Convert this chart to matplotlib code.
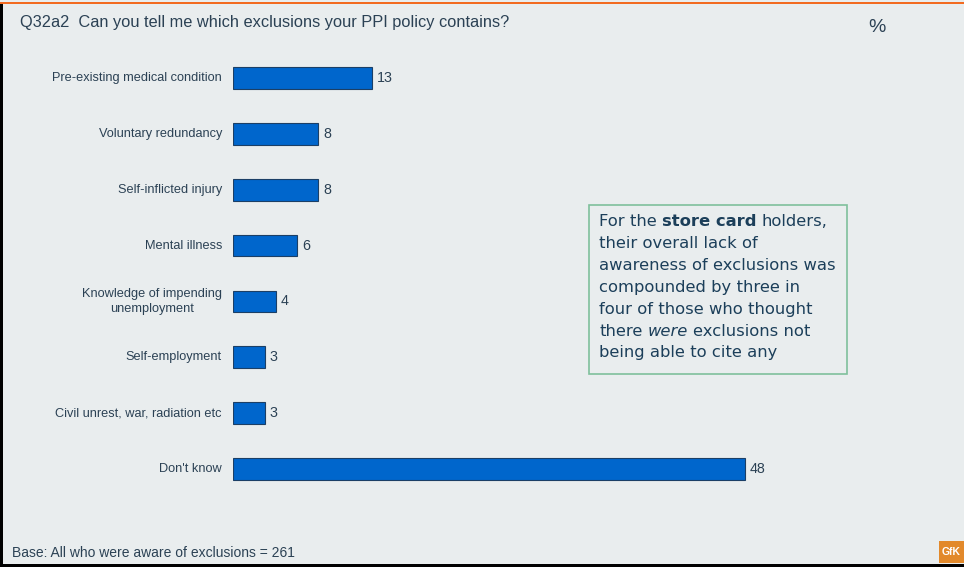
import matplotlib
matplotlib.use("Agg")
import matplotlib.pyplot as plt
from matplotlib.patches import Rectangle

categories = [
    "Pre-existing medical condition",
    "Voluntary redundancy",
    "Self-inflicted injury",
    "Mental illness",
    "Knowledge of impending\nunemployment",
    "Self-employment",
    "Civil unrest, war, radiation etc",
    "Don't know",
]
values = [13, 8, 8, 6, 4, 3, 3, 48]

title = "Q32a2  Can you tell me which exclusions your PPI policy contains?"
base_note = "Base: All who were aware of exclusions = 261"

# callout text, one list of (run, style) per line; runs are joined by a space
callout = [
    [("For the", "normal"), ("store card", "bold"), ("holders,", "normal")],
    [("their overall lack of", "normal")],
    [("awareness of exclusions was", "normal")],
    [("compounded by three in", "normal")],
    [("four of those who thought", "normal")],
    [("there", "normal"), ("were", "italic"), ("exclusions not", "normal")],
    [("being able to cite any", "normal")],
]

W, H = 964, 567
BG = "#e9edee"
TXT = "#2b4154"
ARIAL = ["Liberation Sans", "DejaVu Sans"]

fig = plt.figure(figsize=(W / 100, H / 100), dpi=100, facecolor=BG)


def fx(px):
    return px / W


def fy(py):
    return 1 - py / H


# frame: orange rule on top, black edges left and bottom
fig.add_artist(Rectangle((0, fy(4)), 1, 2 / H, transform=fig.transFigure,
                         color="#f26b21", lw=0))
fig.add_artist(Rectangle((0, 0), 3 / W, fy(4), transform=fig.transFigure,
                         color="black", lw=0))
fig.add_artist(Rectangle((0, 0), 1, 3 / H, transform=fig.transFigure,
                         color="black", lw=0))

# bars
top, bottom = 50, 497
ax = fig.add_axes([fx(233), fy(bottom), (900 - 233) / W, (bottom - top) / H])
ax.set_facecolor("none")
ypos = list(range(len(values)))
ax.barh(ypos, values, height=0.39, color="#0066cc", edgecolor="#1b3f66",
        linewidth=0.8)
ax.set_xlim(0, (900 - 233) / 10.67)
ax.set_ylim(len(values) - 0.5, -0.5)
for s in ax.spines.values():
    s.set_visible(False)
ax.set_xticks([])
ax.set_yticks([])

for i, (c, v) in enumerate(zip(categories, values)):
    ax.annotate(str(v), (v, i), xytext=(3.5, 0), textcoords="offset points",
                ha="left", va="center", fontsize=10.3, color=TXT, family=ARIAL)
    ax.annotate(c, (0, i), xytext=(-8, 0), textcoords="offset points",
                ha="right", va="center", multialignment="center",
                linespacing=1.4, fontsize=9.2, color=TXT, family=ARIAL)

fig.text(fx(20), fy(23), title, ha="left", va="center", fontsize=11.8,
         color=TXT, family=ARIAL)
fig.text(fx(868), fy(27), "%", ha="left", va="center", fontsize=14,
         color=TXT, family=ARIAL)
fig.text(fx(12), fy(553), base_note, ha="left", va="center", fontsize=10,
         color=TXT, family=ARIAL)

# GfK badge
fig.add_artist(Rectangle((fx(939), fy(563)), 25 / W, 22 / H,
                         transform=fig.transFigure, color="#e2892b", lw=0))
fig.text(fx(951), fy(552), "GfK", ha="center", va="center", fontsize=7.5,
         color="white", weight="bold", family=ARIAL)

# callout box
fig.add_artist(Rectangle((fx(589), fy(374)), (847 - 589) / W, (374 - 205) / H,
                         transform=fig.transFigure, facecolor="none",
                         edgecolor="#7fc09c", lw=1.2))
renderer = fig.canvas.get_renderer()
fs = 11.75
probe1 = fig.text(0, 0, "x x", fontsize=fs)
probe2 = fig.text(0, 0, "xx", fontsize=fs)
space_w = (probe1.get_window_extent(renderer).width
           - probe2.get_window_extent(renderer).width)
probe1.remove()
probe2.remove()

line_y = 222
for line in callout:
    x = 599
    for k, (run, style) in enumerate(line):
        if k > 0:
            x += space_w
        t = fig.text(fx(x), fy(line_y), run, ha="left", va="center",
                     fontsize=fs, color="#1c3f5a",
                     weight="bold" if style == "bold" else "normal",
                     style="italic" if style == "italic" else "normal")
        x += t.get_window_extent(renderer).width
    line_y += 21.8

fig.savefig("out.png", dpi=100, facecolor=BG)
